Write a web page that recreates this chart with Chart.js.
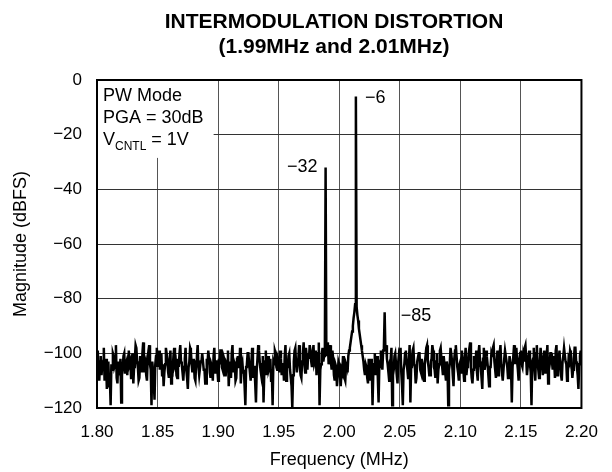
<!DOCTYPE html>
<html>
<head>
<meta charset="utf-8">
<title>Intermodulation Distortion</title>
<script src="https://cdn.jsdelivr.net/npm/chart.js@4.4.1/dist/chart.umd.min.js"></script>
<style>
  body { margin: 0; background: #ffffff; }
  #wrap { width: 612px; height: 472px; }
</style>
</head>
<body>
<div id="wrap"><canvas id="myChart" width="612" height="472"></canvas></div>
<script>
// FFT bins: 1.80 MHz to 2.20 MHz, one bin every 0.625 kHz
var freqStart = 1.80;
var freqStep = 0.000625;

// magnitude of each bin in dBFS
var magnitude = [
  -104,-99,-106,-110,-103,-101,-108,-104,-105,-98,-110,-106,-102,-113,-107,-103,-112,-109,-119,-104,-106,-100,-101,-105,-104,-97,-109,-111,-103,-106,-107,-102,-118,-108,-105,-101,-100,-107,-104,-103,
  -108,-102,-99,-104,-103,-109,-106,-100,-111,-105,-102,-97,-98,-103,-105,-110,-109,-101,-104,-107,-100,-96,-107,-104,-103,-108,-110,-102,-99,-97,-104,-106,-119,-103,-106,-110,-117,-104,-101,-98,
  -105,-101,-99,-106,-103,-100,-108,-104,-112,-107,-104,-98,-100,-103,-107,-109,-102,-99,-111,-105,-106,-101,-98,-104,-103,-108,-109,-102,-105,-100,-97,-103,-104,-107,-110,-105,-102,-98,-106,-109,
  -113,-105,-103,-98,-99,-104,-107,-102,-104,-109,-110,-103,-101,-97,-105,-108,-108,-103,-103,-100,-100,-106,-106,-111,-111,-102,-104,-99,-102,-107,-109,-104,-105,-110,-101,-98,-107,-103,-103,-106,
  -110,-102,-104,-99,-99,-105,-106,-101,-102,-108,-108,-104,-105,-99,-112,-106,-103,-109,-100,-97,-107,-103,-104,-110,-109,-102,-101,-105,-105,-98,-111,-104,-103,-107,-106,-112,-119,-105,-104,-100,
  -100,-104,-107,-110,-103,-98,-109,-105,-105,-111,-118,-106,-102,-97,-99,-103,-106,-108,-104,-101,-118,-107,-103,-99,-108,-104,-101,-106,-105,-102,-110,-107,-119,-103,-104,-99,-100,-105,-106,-102,
  -103,-107,-99,-102,-108,-104,-104,-110,-101,-97,-110,-105,-105,-101,-100,-106,-106,-112,-120,-108,-103,-99,-98,-104,-107,-103,-102,-97,-105,-108,-109,-103,-100,-96,-104,-107,-98,-101,-106,-100,
  -102,-97,-99,-103,-105,-100,-97,-104,-103,-99,-108,-102,-100,-96,-119,-106,-104,-100,-98,-103,-101,-100,-32,-101,-99,-96,-104,-101,-97,-103,-106,-99,-102,-108,-110,-104,-105,-112,-108,-103,
  -104,-108,-112,-106,-107,-101,-103,-109,-110,-104,-105,-107,-101,-99,-98,-96,-94,-92,-90,-87,-85,-82,-6,-83,-86,-88,-91,-93,-95,-97,-99,-101,-103,-106,-108,-104,-105,-109,-111,-102,
  -106,-110,-102,-105,-119,-107,-104,-100,-108,-103,-101,-109,-118,-104,-105,-99,-103,-106,-99,-98,-85,-99,-97,-102,-104,-107,-110,-103,-102,-98,-119,-108,-106,-101,-100,-104,-108,-111,-103,-100,
  -101,-98,-107,-112,-119,-106,-104,-100,-99,-103,-106,-109,-103,-97,-118,-105,-102,-99,-98,-104,-105,-111,-109,-103,-103,-100,-100,-106,-107,-102,-104,-109,-110,-104,-101,-98,-97,-103,-105,-108,
  -108,-103,-102,-97,-99,-105,-106,-109,-103,-100,-111,-106,-104,-99,-98,-102,-105,-108,-101,-104,-107,-110,-103,-105,-119,-106,-104,-98,-100,-103,-108,-112,-102,-99,-97,-101,-105,-107,-110,-104,
  -103,-107,-99,-102,-106,-110,-102,-98,-108,-105,-104,-100,-98,-96,-105,-109,-111,-106,-101,-103,-104,-99,-107,-110,-100,-97,-103,-105,-109,-113,-102,-98,-106,-104,-99,-101,-104,-108,-112,-105,
  -105,-100,-101,-98,-97,-103,-106,-109,-103,-99,-108,-104,-100,-97,-104,-107,-110,-106,-102,-99,-99,-103,-105,-109,-107,-101,-103,-106,-118,-105,-101,-97,-104,-100,-98,-103,-106,-110,-102,-100,
  -99,-104,-105,-101,-103,-98,-97,-102,-108,-105,-101,-99,-104,-107,-119,-103,-102,-98,-106,-110,-100,-97,-103,-106,-109,-104,-98,-101,-105,-108,-102,-99,-107,-103,-101,-97,-111,-106,-104,-100,
  -100,-103,-106,-101,-103,-109,-99,-97,-108,-104,-102,-99,-105,-108,-110,-103,-101,-98,-98,-103,-104,-110,-107,-102,-103,-99,-100,-105,-109,-106,-102,-98,-98,-103,-105,-108,-113,-104,-101,-99,-104
];

// labelled tones: bin index and printed value
var peakBins = [302, 342, 380];
var peakLabels = ['\u221232', '\u22126', '\u221285'];

var xTickLabels = ['1.80', '1.85', '1.90', '1.95', '2.00', '2.05', '2.10', '2.15', '2.20'];
var yTickLabels = ['0', '\u221220', '\u221240', '\u221260', '\u221280', '\u2212100', '\u2212120'];

var titleLines = ['INTERMODULATION DISTORTION', '(1.99MHz and 2.01MHz)'];

window.onload = function()
{
    var ctx = document.getElementById('myChart').getContext('2d');
    var font = 'Liberation Sans, Arial, Helvetica, sans-serif';

    var points = magnitude.map(function(m, i)
    {
        return { x: freqStart + i * freqStep, y: m };
    });

    // title, condition box, peak values and frame
    var textPlugin = {
        id: 'textPlugin',
        beforeDatasetsDraw: function(chart)
        {
            var c = chart.ctx;
            var xs = chart.scales.x;
            var ys = chart.scales.y;
            // white box behind the test conditions
            c.save();
            c.fillStyle = '#ffffff';
            var x0 = xs.getPixelForValue(1.80);
            var x1 = xs.getPixelForValue(1.8963);
            var y0 = ys.getPixelForValue(0);
            var y1 = ys.getPixelForValue(-28.5);
            c.fillRect(x0, y0, x1 - x0, y1 - y0);
            c.restore();
        },
        afterDraw: function(chart)
        {
            var c = chart.ctx;
            var area = chart.chartArea;
            var xs = chart.scales.x;
            var ys = chart.scales.y;

            c.save();
            c.fillStyle = '#000000';
            c.textBaseline = 'alphabetic';

            c.font = 'bold 21px ' + font;
            c.textAlign = 'center';
            c.fillText(titleLines[0], 334, 28);
            c.fillText(titleLines[1], 334, 53);

            c.font = '18px ' + font;
            c.textAlign = 'left';
            c.fillText('PW Mode', 103, 101);
            c.fillText('PGA = 30dB', 103, 123);
            c.fillText('V', 103, 145);
            var vw = c.measureText('V').width;
            c.font = '12px ' + font;
            c.fillText('CNTL', 103 + vw, 150);
            var sw = c.measureText('CNTL').width;
            c.font = '18px ' + font;
            c.fillText(' = 1V', 103 + vw + sw, 145);

            // peak values next to their tones
            var offsets = [[-8, 5, 'right'], [9, 7, 'left'], [16, 9, 'left']];
            for (var i = 0; i < peakBins.length; i++)
            {
                var p = points[peakBins[i]];
                var px = xs.getPixelForValue(p.x);
                var py = ys.getPixelForValue(p.y);
                c.textAlign = offsets[i][2];
                c.fillText(peakLabels[i], px + offsets[i][0], py + offsets[i][1]);
            }

            // frame
            c.strokeStyle = '#000000';
            c.lineWidth = 2;
            c.strokeRect(area.left, area.top, area.right - area.left, area.bottom - area.top);
            c.restore();
        }
    };

    var myChart = new Chart(ctx,
    {
        type: 'line',
        data:
        {
            datasets:
            [{
                label: 'Magnitude',
                data: points,
                borderColor: '#000000',
                borderWidth: 2.5,
                pointRadius: 0,
                tension: 0,
                fill: false
            }]
        },
        options:
        {
            responsive: false,
            animation: false,
            layout: { padding: { left: 0, right: 29, top: 80, bottom: 0 } },
            plugins:
            {
                legend: { display: false },
                title: { display: false },
                tooltip: { enabled: false }
            },
            scales:
            {
                x:
                {
                    type: 'linear',
                    min: 1.80,
                    max: 2.20,
                    afterFit: function(scale) { scale.height = 64; },
                    ticks:
                    {
                        stepSize: 0.05,
                        padding: 14,
                        color: '#000000',
                        font: { family: font, size: 17 },
                        maxRotation: 0,
                        callback: function(value, index) { return xTickLabels[index]; }
                    },
                    grid: { color: '#555555', lineWidth: 1, drawTicks: false },
                    border: { display: false },
                    title:
                    {
                        display: true,
                        text: 'Frequency (MHz)',
                        color: '#000000',
                        font: { family: font, size: 18 },
                        padding: { top: 0, bottom: 1 }
                    }
                },
                y:
                {
                    type: 'linear',
                    min: -120,
                    max: 0,
                    afterFit: function(scale) { scale.width = 97; },
                    ticks:
                    {
                        stepSize: 20,
                        padding: 15,
                        color: '#000000',
                        font: { family: font, size: 17 },
                        callback: function(value)
                        {
                            return yTickLabels[Math.round(-value / 20)];
                        }
                    },
                    grid: { color: '#333333', lineWidth: 1, drawTicks: false },
                    border: { display: false },
                    title:
                    {
                        display: true,
                        text: 'Magnitude (dBFS)',
                        color: '#000000',
                        font: { family: font, size: 18 },
                        padding: { top: 10, bottom: 0 }
                    }
                }
            }
        },
        plugins: [textPlugin]
    });
};
</script>
</body>
</html>
